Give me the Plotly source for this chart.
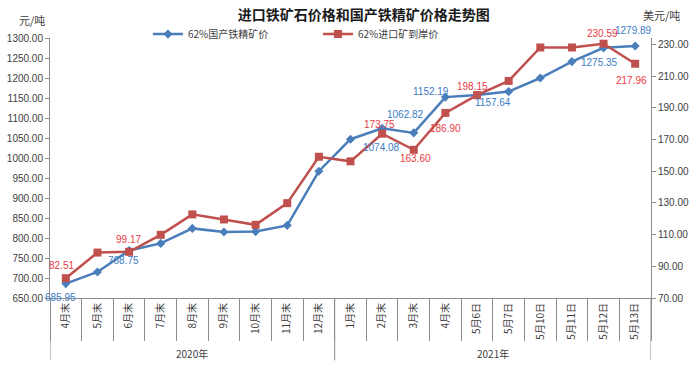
import plotly.graph_objects as go

years = ['2020年', '2021年']
year_counts = [9, 10]
cats = ['4月末', '5月末', '6月末', '7月末', '8月末', '9月末', '10月末', '11月末', '12月末',
        '1月末', '2月末', '3月末', '4月末', '5月6日', '5月7日', '5月10日', '5月11日', '5月12日', '5月13日']
domestic = [685.95, 715, 768.75, 786.5, 824, 815, 816, 831.6, 967,
            1047, 1074.08, 1062.82, 1152.19, 1157.64, 1166, 1200, 1241, 1275.35, 1279.89]
imported = [82.51, 98.7, 99.17, 109.9, 122.8, 119.6, 116.2, 129.9, 159.2,
            156.3, 173.75, 163.60, 186.90, 198.15, 207.1, 228.2, 228.2, 230.59, 217.96]

# labelled points: (index, xshift, yshift)
dom_labels = [(0, -5, -14), (2, -6, -10), (10, -1, -19), (11, -8, 18), (12, -14, 6),
              (13, 16, -8), (17, -4, -15), (18, -2, 16)]
imp_labels = [(0, -4, 13), (2, -1, 12), (10, -3, 9), (11, 2, -9), (12, 0, -16),
              (13, -5, 9), (17, -1, 10), (18, -4, -17)]

BLUE = '#4a7ebb'
RED = '#c0504d'
BLUE_T = '#3a7cc4'
RED_T = '#e8393f'
AX = '#8c8c8c'
TXT = '#404040'
FONT = 'Liberation Sans, Noto Sans CJK SC, sans-serif'
CJK = 'Noto Sans CJK SC, sans-serif'

idx = list(range(len(cats)))
fig = go.Figure()
fig.add_trace(go.Scatter(x=idx, y=domestic, name='62%国产铁精矿价', mode='lines+markers',
                         line=dict(color=BLUE, width=2.5),
                         marker=dict(symbol='diamond', size=7, color=BLUE)))
fig.add_trace(go.Scatter(x=idx, y=imported, name='62%进口矿到岸价', mode='lines+markers', yaxis='y2',
                         line=dict(color=RED, width=2.5),
                         marker=dict(symbol='square', size=8, color=RED)))

ann = []
for i, dx, dy in dom_labels:
    ann.append(dict(x=i, y=domestic[i], xref='x', yref='y', text=f'{domestic[i]:.2f}',
                    showarrow=False, xshift=dx, yshift=dy,
                    font=dict(family=FONT, size=10, color=BLUE_T)))
for i, dx, dy in imp_labels:
    ann.append(dict(x=i, y=imported[i], xref='x', yref='y2', text=f'{imported[i]:.2f}',
                    showarrow=False, xshift=dx, yshift=dy,
                    font=dict(family=FONT, size=10, color=RED_T)))

# year group labels and dividers
shapes = []
start = 0
bounds = [-0.5]
for yr, n in zip(years, year_counts):
    end = start + n
    ann.append(dict(text=yr, x=(start + end - 1) / 2, xref='x', y=-0.215, yref='paper',
                    showarrow=False, yanchor='middle',
                    font=dict(family=CJK, size=10, color=TXT)))
    bounds.append(end - 0.5)
    start = end
for b in bounds:
    shapes.append(dict(type='line', x0=b, x1=b, xref='x', y0=0, y1=-0.24, yref='paper',
                       line=dict(color=AX, width=1)))

ann.append(dict(text='元/吨', xref='paper', yref='paper', x=-0.03, y=1.07, showarrow=False,
                xanchor='center', yanchor='middle', font=dict(family=CJK, size=11, color=TXT)))
ann.append(dict(text='美元/吨', xref='paper', yref='paper', x=1.018, y=1.09, showarrow=False,
                xanchor='center', yanchor='middle', font=dict(family=CJK, size=11, color=TXT)))

fig.update_layout(
    width=698, height=369,
    margin=dict(l=50, r=47, t=38, b=71),
    paper_bgcolor='white', plot_bgcolor='white',
    title=dict(text='<b>进口铁矿石价格和国产铁精矿价格走势图</b>', x=0.521, xanchor='center',
               y=0.959, yanchor='middle', font=dict(family=CJK, size=14, color='#1a1a1a')),
    showlegend=True,
    legend=dict(orientation='h', x=0.163, y=1.015, xanchor='left', yanchor='middle',
                entrywidth=125, entrywidthmode='pixels', bgcolor='rgba(0,0,0,0)',
                font=dict(family=CJK, size=10, color=TXT), itemwidth=30),
    xaxis=dict(range=[-0.5, len(cats) - 0.5], tickmode='array', tickvals=idx, ticktext=cats,
               showline=True, linecolor=AX, linewidth=1, ticks='',
               minor=dict(tick0=-0.5, dtick=1, ticks='outside', ticklen=42, tickcolor=AX),
               tickangle=-90, tickfont=dict(family=CJK, size=10, color=TXT),
               showgrid=False, zeroline=False, automargin=False),
    yaxis=dict(range=[650, 1300], dtick=50, tickformat='.2f', showline=True, linecolor=AX,
               ticks='outside', ticklen=4, tickcolor=AX, showgrid=False, zeroline=False,
               tickfont=dict(family=FONT, size=10, color=TXT), automargin=False),
    yaxis2=dict(range=[70, 234.2], tick0=70, dtick=20, tickformat='.2f', overlaying='y',
                side='right', showline=True, linecolor=AX, ticks='outside', ticklen=4,
                tickcolor=AX, showgrid=False, zeroline=False,
                tickfont=dict(family=FONT, size=10, color=TXT), automargin=False),
    annotations=ann,
    shapes=shapes,
)

fig.write_html('out.html', config={'displayModeBar': False},
               post_script="document.body.style.margin='0';document.body.style.overflow='hidden';")
